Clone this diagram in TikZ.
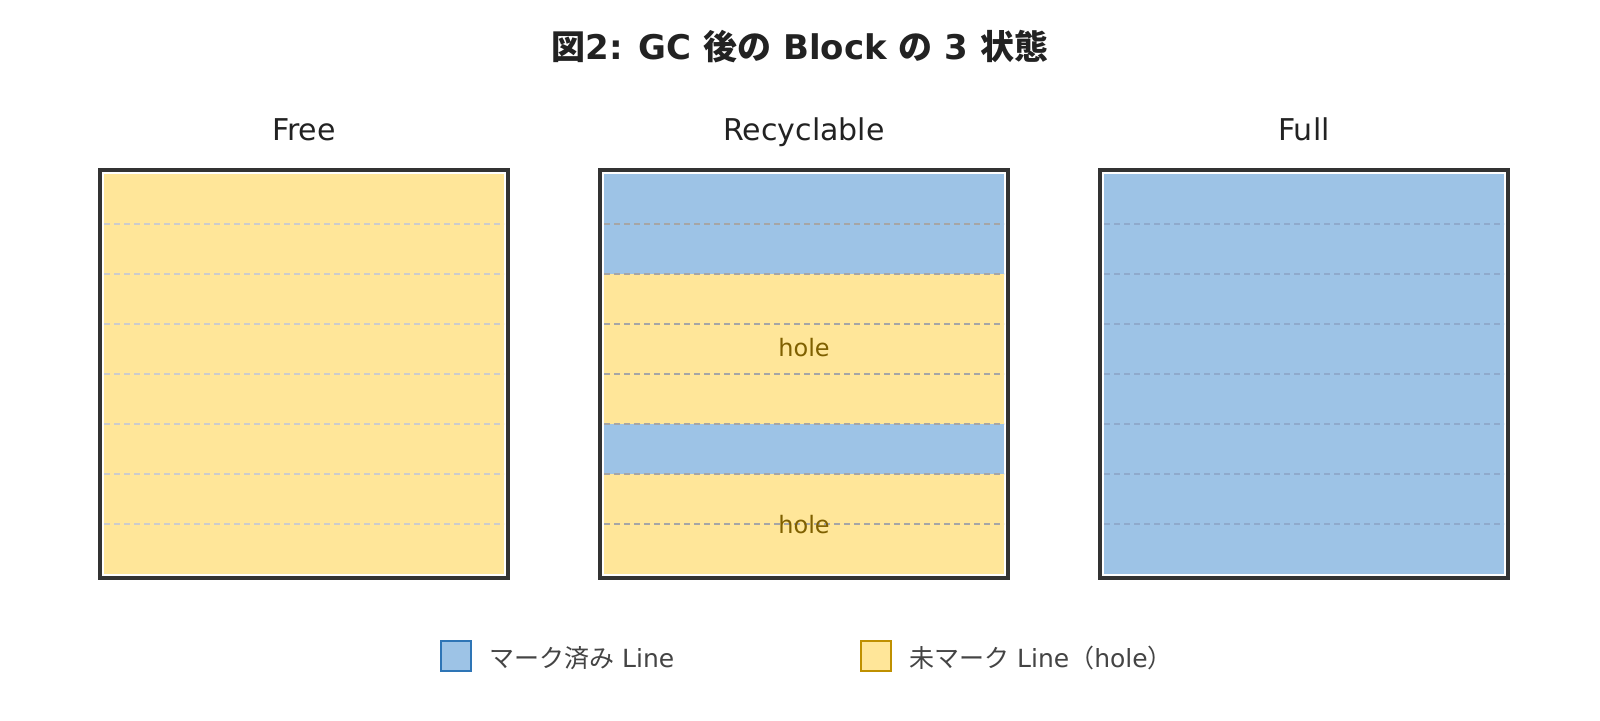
\documentclass[tikz,border=0pt]{standalone}
\usepackage{fontspec}
\setmainfont{DejaVu Sans}
\newfontfamily\jpfont{Noto Sans CJK JP}
\usetikzlibrary{positioning}

\definecolor{markfill}{HTML}{9DC3E6}
\definecolor{markdraw}{HTML}{2E75B6}
\definecolor{holefill}{HTML}{FFE699}
\definecolor{holedraw}{HTML}{BF9000}
\definecolor{holetext}{HTML}{7F6000}
\definecolor{framecol}{HTML}{333333}
\definecolor{inkcol}{HTML}{222222}
\definecolor{keyink}{HTML}{444444}
\definecolor{freeline}{HTML}{CCCCCC}
\definecolor{recyline}{HTML}{A6A6A6}
\definecolor{fullline}{HTML}{8FAACC}

\begin{document}
\begin{tikzpicture}[
    x=1pt, y=-1pt,
    heading/.style={font=\fontsize{34}{40}\selectfont\bfseries, text=inkcol},
    blocktitle/.style={font=\fontsize{30}{34}\selectfont, text=inkcol, inner sep=0pt, text depth=0pt},
    blockframe/.style={rectangle, draw=framecol, line width=4pt,
                       minimum width=408pt, minimum height=408pt},
    rowline/.style={dash pattern=on 6pt off 4pt, line width=1.5pt},
    holelabel/.style={font=\fontsize{24}{28}\selectfont, text=holetext},
    keybox/.style={rectangle, line width=2pt, minimum size=30pt, inner sep=0pt},
    keytext/.style={font=\fontsize{25}{30}\selectfont, text=keyink, inner sep=0pt,
                    text height=22pt, text depth=0pt}
]
\fill[white] (0,0) rectangle (1600,720);
\useasboundingbox (0,0) rectangle (1600,720);

% --- Titel ---
\node[heading] (heading) at (800,47)
    {{\jpfont 図}2: GC {\jpfont 後の} Block {\jpfont の} 3 {\jpfont 状態}};

% --- Free ---
\fill[holefill] (104,174) rectangle (504,574);
\foreach \y in {224,274,...,524}
    \draw[rowline, freeline] (104,\y) -- (504,\y);
\node[blockframe] (free) at (304,374) {};
\node[blocktitle, above=27pt of free] (freetitle) {Free};

% --- Recyclable ---
\fill[holefill] (604,174) rectangle (1004,574);
\fill[markfill] (604,174) rectangle (1004,274);
\fill[markfill] (604,424) rectangle (1004,474);
\foreach \y in {224,274,...,524}
    \draw[rowline, recyline] (604,\y) -- (1004,\y);
\node[blockframe] (recyclable) at (804,374) {};
\node[blocktitle, above=27pt of recyclable] (recyclabletitle) {Recyclable};
\node[holelabel] (holeupper) at (804,348) {hole};
\node[holelabel] (holelower) at (804,525) {hole};

% --- Full ---
\fill[markfill] (1104,174) rectangle (1504,574);
\foreach \y in {224,274,...,524}
    \draw[rowline, fullline] (1104,\y) -- (1504,\y);
\node[blockframe] (full) at (1304,374) {};
\node[blocktitle, above=27pt of full] (fulltitle) {Full};

% --- Legende ---
\node[keybox, fill=markfill, draw=markdraw] (keymarked) at (456,656) {};
\node[keytext, right=17pt of keymarked] (keymarkedtext) {{\jpfont マーク済み} Line};
\node[keybox, fill=holefill, draw=holedraw] (keyhole) at (876,656) {};
\node[keytext, right=17pt of keyhole] (keyholetext) {{\jpfont 未マーク} Line{\jpfont （}hole{\jpfont ）}};

\end{tikzpicture}
\end{document}
